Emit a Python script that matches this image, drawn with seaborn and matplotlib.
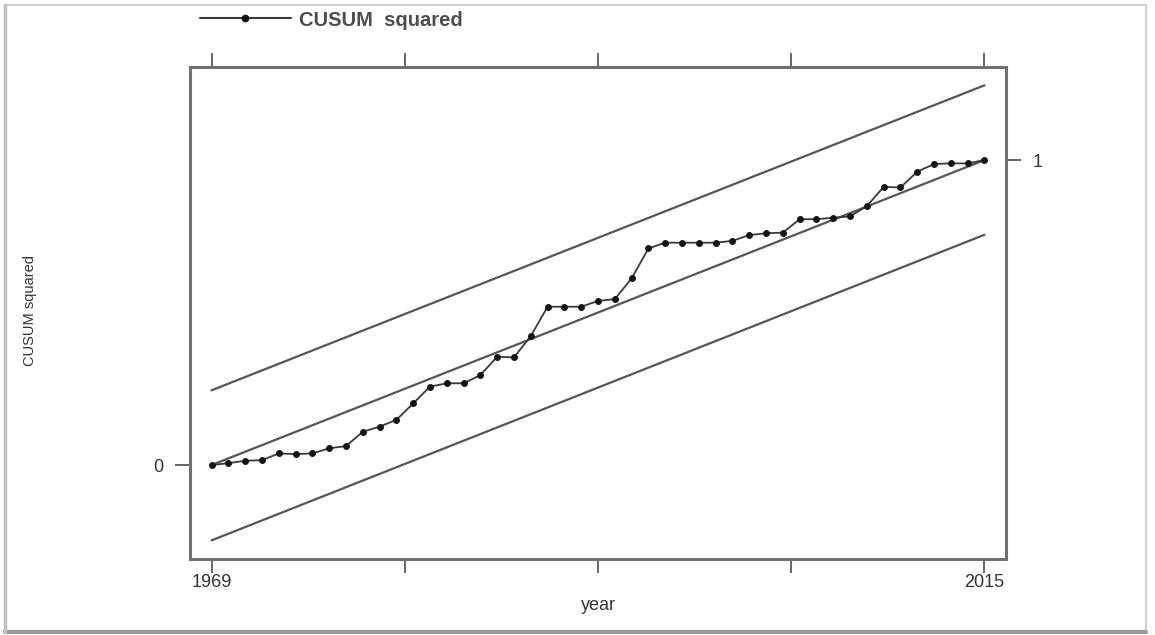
import numpy as np
import pandas as pd
import matplotlib
matplotlib.use("Agg")
import matplotlib.pyplot as plt
import seaborn as sns
from matplotlib.lines import Line2D
from matplotlib.patches import Rectangle

# ---- data ----
years = list(range(1969, 2016))
cusum_sq = [0.000, 0.006, 0.014, 0.016, 0.038, 0.036, 0.038, 0.055, 0.062, 0.109,
            0.126, 0.148, 0.202, 0.257, 0.268, 0.268, 0.295, 0.355, 0.353, 0.423,
            0.519, 0.519, 0.519, 0.538, 0.544, 0.612, 0.710, 0.729, 0.729, 0.729,
            0.729, 0.735, 0.754, 0.760, 0.762, 0.806, 0.806, 0.811, 0.815, 0.849,
            0.912, 0.910, 0.962, 0.987, 0.989, 0.989, 1.000]
bound_years = [1969, 2015]
expected = [0.0, 1.0]
upper = [0.245, 1.245]
lower = [-0.247, 0.755]
xtick_pos = [1969, 1980.5, 1992, 2003.5, 2015]
xtick_labels = ["1969", "", "", "", "2015"]

df = pd.DataFrame({"year": years, "cusum": cusum_sq})
bounds = pd.DataFrame({"year": bound_years * 3,
                       "value": expected + upper + lower,
                       "kind": ["exp"] * 2 + ["up"] * 2 + ["lo"] * 2})

sns.set_style("white")
plt.rcParams["font.family"] = ["Liberation Sans", "DejaVu Sans"]

fig = plt.figure(figsize=(11.55, 6.35), dpi=100)
ax = fig.add_axes([190 / 1155, 1 - 559 / 635, 816 / 1155, 492 / 635])

line_col = "#555555"
sns.lineplot(data=bounds, x="year", y="value", units="kind", estimator=None,
             color=line_col, linewidth=1.6, ax=ax, legend=False)
sns.lineplot(data=df, x="year", y="cusum", color="#3a3a3a", linewidth=1.3,
             marker="o", markersize=4.2, markerfacecolor="#151515",
             markeredgecolor="#151515", ax=ax, legend=False)

ax.set_xlim(1967.72, 2016.28)
ax.set_ylim(-0.308, 1.305)

for s in ax.spines.values():
    s.set_color("#707070")
    s.set_linewidth(2.2)

ax.set_xticks(xtick_pos)
ax.set_xticklabels(xtick_labels, fontsize=13, color="#333333")
ax.tick_params(axis="x", which="both", direction="out", length=10, width=1.4,
               color="#666666", top=True, bottom=True, labeltop=False, pad=1)
ax.set_yticks([0])
ax.set_yticklabels(["0"], fontsize=13, color="#333333")
ax.tick_params(axis="y", direction="out", length=11, width=1.4, color="#666666",
               left=True, right=False, pad=8)

ax2 = ax.twinx()
ax2.set_ylim(ax.get_ylim())
ax2.set_yticks([1])
ax2.set_yticklabels(["1"], fontsize=13, color="#333333")
ax2.tick_params(axis="y", direction="out", length=11, width=1.4, color="#666666",
                right=True, pad=8)
for s in ax2.spines.values():
    s.set_visible(False)

ax.set_xlabel("year", fontsize=13, color="#333333", labelpad=4)
ax.set_ylabel("")
fig.text(30 / 1155, 1 - 310 / 635, "CUSUM squared", rotation=90, fontsize=10.5,
         color="#333333", ha="center", va="center")

# legend
handle = Line2D([], [], color="#3a3a3a", linewidth=1.5, marker="o",
                markersize=4.5, markerfacecolor="#111111", markeredgecolor="#111111")
fig.legend([handle], ["CUSUM  squared"], loc="center left",
           bbox_to_anchor=(182 / 1155, 1 - 20 / 635), frameon=False,
           prop={"size": 14.5, "weight": "bold"}, handlelength=4.5,
           handletextpad=0.4, numpoints=1, labelcolor="#4d4d4d")

# figure frame
fig.patches.append(Rectangle((5 / 1155, 4 / 635), 1141 / 1155, 626 / 635,
                             transform=fig.transFigure, fill=False,
                             edgecolor="#d0d0d0", linewidth=1.5))
fig.add_artist(Line2D([5 / 1155, 1146 / 1155], [3 / 635, 3 / 635],
                      transform=fig.transFigure, color="#9a9a9a", linewidth=3))
fig.add_artist(Line2D([5 / 1155, 5 / 1155], [3 / 635, 630 / 635],
                      transform=fig.transFigure, color="#c0c0c0", linewidth=2.5))

fig.savefig("out.png", dpi=100)
